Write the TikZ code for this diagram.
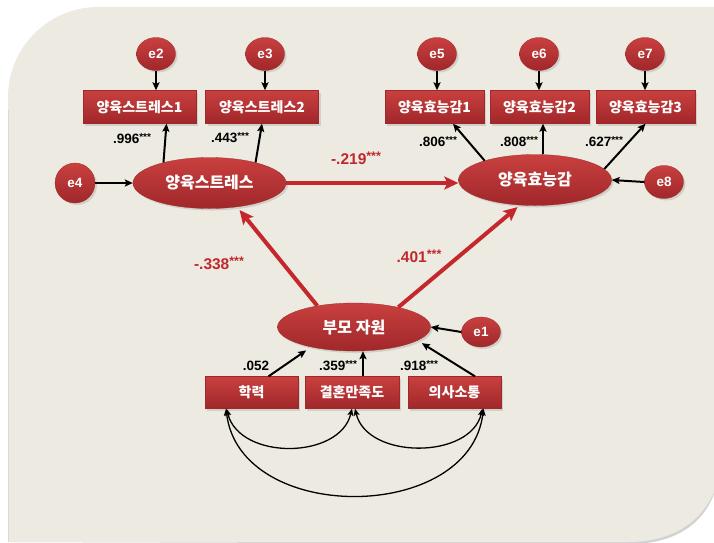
\documentclass[tikz,border=0pt]{standalone}
\usepackage{fontspec}
\setmainfont{Liberation Sans}
\newfontfamily\kr{Noto Sans CJK KR}
\usetikzlibrary{shapes.geometric,arrows.meta,shadows,calc}
\definecolor{bgc}{HTML}{EDEBE1}
\definecolor{boxtop}{HTML}{C9403F}
\definecolor{boxbot}{HTML}{A0272A}
\definecolor{redarrow}{HTML}{C4272C}
\definecolor{redlbl}{HTML}{C0282D}
\newcommand\stars{\raisebox{3.2pt}{\fontsize{10}{10}\selectfont ***}}
\newcommand\rstars{\raisebox{3.6pt}{\fontsize{12.5}{12.5}\selectfont ***}}
\tikzset{
  shad/.style={drop shadow={opacity=0.25,shadow xshift=2pt,shadow yshift=-2pt}},
  box/.style={rectangle, shad, top color=boxtop, bottom color=boxbot, draw=boxbot, line width=0.3pt,
    minimum height=33pt, inner sep=0pt, text=white, font=\kr\bfseries\fontsize{14}{14}\selectfont},
  errn/.style={ellipse, shad, top color=boxtop, bottom color=boxbot, draw=boxbot, line width=0.3pt,
    minimum width=39pt, minimum height=33pt, inner sep=0pt, text=white, font=\bfseries\fontsize{13.5}{13.5}\selectfont},
  lat/.style={ellipse, shad, top color=boxtop, bottom color=boxbot, draw=boxbot, line width=0.3pt,
    minimum width=153pt, minimum height=51pt, inner sep=0pt, text=white, font=\kr\bfseries\fontsize{16}{16}\selectfont},
  arr/.style={-{Stealth[length=8pt,width=7pt,inset=1.5pt]}, line width=2pt, black},
  redarr/.style={-{Stealth[length=14pt,width=13pt,inset=3pt]}, line width=4pt, redarrow},
  cov/.style={{Stealth[length=7pt,width=6pt,inset=1.5pt]}-{Stealth[length=7pt,width=6pt,inset=1.5pt]}, line width=1.3pt, black},
  lbl/.style={font=\bfseries\fontsize{13.5}{13.5}\selectfont, inner sep=0pt},
  rlbl/.style={font=\bfseries\fontsize{15.5}{15.5}\selectfont, text=redlbl, inner sep=0pt}
}
\begin{document}
\begin{tikzpicture}[x=1pt,y=-1pt]
\useasboundingbox (0,0) rectangle (714,542);
\fill[white] (0,0) rectangle (714,542);
% background panel
\fill[gray!35] (10,542) -- (10,99) .. controls (10,49.5) and (50.5,9) .. (100,9) -- (714,9) -- (714,494)
  .. controls (702,526) and (672,544) .. (630,544) -- cycle;
\fill[bgc] (8,542) -- (8,97) .. controls (8,47.5) and (48.5,7) .. (98,7) -- (714,7) -- (714,492)
  .. controls (700,524) and (670,542) .. (628,542) -- cycle;
\draw[gray!30, line width=0.8pt] (8,542) -- (8,110);

% error terms
\node[errn] (e2) at (156,54) {e2};
\node[errn] (e3) at (265,54) {e3};
\node[errn] (e5) at (437,54) {e5};
\node[errn] (e6) at (539,54) {e6};
\node[errn] (e7) at (645,54) {e7};
\node[errn, minimum width=40pt, minimum height=40pt] (e4) at (75,183) {e4};
\node[errn] (e8) at (664,182) {e8};
\node[errn, minimum height=30pt] (e1) at (481,332) {e1};

% observed boxes
\node[box, minimum width=113pt] (s1) at (139.5,107) {양육스트레스1};
\node[box, minimum width=113pt] (s2) at (262,107) {양육스트레스2};
\node[box, minimum width=99pt] (f1) at (434.5,107) {양육효능감1};
\node[box, minimum width=99pt] (f2) at (539.5,107) {양육효능감2};
\node[box, minimum width=99pt] (f3) at (645.5,107) {양육효능감3};
\node[box, minimum width=93pt, minimum height=32pt] (k1) at (251.5,392.5) {학력};
\node[box, minimum width=94pt, minimum height=32pt] (k2) at (352,392.5) {결혼만족도};
\node[box, minimum width=93pt, minimum height=32pt] (k3) at (454.5,392.5) {의사소통};

% latent ellipses
\node[lat] (ps) at (209.5,183) {양육스트레스};
\node[lat] (pe) at (535,180) {양육효능감};
\node[lat, minimum height=48pt] (pr) at (354,327) {부모 자원};

% error arrows
\draw[arr] (e2.south) -- (e2.south |- s1.north);
\draw[arr] (e3.south) -- (e3.south |- s2.north);
\draw[arr] (e5.south) -- (e5.south |- f1.north);
\draw[arr] (e6.south) -- (e6.south |- f2.north);
\draw[arr] (e7.south) -- (e7.south |- f3.north);
\draw[arr] (e4) -- (ps);
\draw[arr] (e8.west) -- (pe.east);
\draw[arr] (e1.west) -- (pr.east);

% loadings
\draw[arr] (ps.156) -- ($(s1.south)+(27,0)$);
\draw[arr] (ps.24) -- (s2.south);
\draw[arr] (pe.159) -- ($(f1.south)+(18.5,0)$);
\draw[arr] ($(pe.north)+(8,0)$) -- ($(f2.south)+(3.5,0)$);
\draw[arr] (pe.9) -- (f3.south);

% formative
\draw[arr, shorten >=6pt] ($(k1.north)+(17,0)$) -- (pr.205);
\draw[arr] ($(k2.north)+(11,0)$) -- ($(pr.south)+(9,0)$);
\draw[arr, shorten >=5pt] ($(k3.north)+(20.5,0)$) -- (pr.-12);

% structural
\draw[redarr] (ps.east) -- (ps.east -| pe.west);
\draw[redarr, shorten >=4pt] (pr.150) -- (ps.-41);
\draw[redarr, shorten >=3pt] (pr.24) -- (pe.-121);

% covariances
\draw[cov] ($(k1.south)+(-25,0)$) .. controls +(13,52) and +(-12,51) .. (k2.south);
\draw[cov] ($(k2.south)+(3,0)$) .. controls +(12,51) and +(-12,51) .. ($(k3.south)+(28,0)$);
\draw[cov] ($(k1.south)+(-25.5,0)$) .. controls +(14,116) and +(-14,115) .. ($(k3.south)+(29,0)$);

% labels
\node[lbl] (l1) at (132,139) {.996\stars};
\node[lbl] (l2) at (230,138) {.443\stars};
\node[lbl] (l3) at (438,142) {.806\stars};
\node[lbl] (l4) at (519,142) {.808\stars};
\node[lbl] (l5) at (604,142) {.627\stars};
\node[lbl] (l6) at (256,366) {.052};
\node[lbl] (l7) at (338,366) {.359\stars};
\node[lbl] (l8) at (419,366) {.918\stars};
\node[rlbl] (r1) at (356,158) {-.219\rstars};
\node[rlbl] (r2) at (219,263) {-.338\rstars};
\node[rlbl] (r3) at (419,256) {.401\rstars};
\end{tikzpicture}
\end{document}
